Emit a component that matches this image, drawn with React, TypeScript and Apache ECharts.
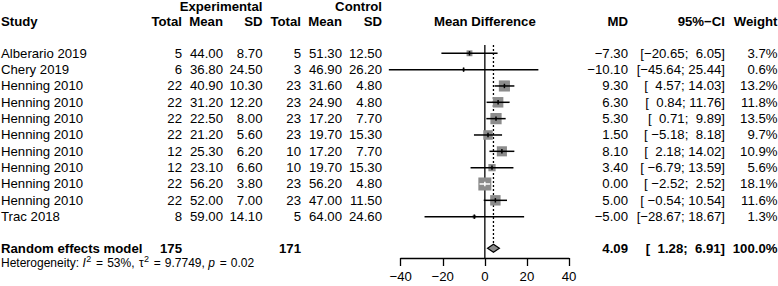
import React, { useEffect, useRef } from "react";
import * as echarts from "echarts";

// ---------- data ----------
const studies = ["Alberario 2019", "Chery 2019", "Henning 2010", "Henning 2010", "Henning 2010", "Henning 2010", "Henning 2010", "Henning 2010", "Henning 2010", "Henning 2010", "Trac 2018"];
const expTotal = [5, 6, 22, 22, 22, 22, 12, 12, 22, 22, 8];
const expMean = [44.0, 36.8, 40.9, 31.2, 22.5, 21.2, 25.3, 23.1, 56.2, 52.0, 59.0];
const expSD = [8.7, 24.5, 10.3, 12.2, 8.0, 5.6, 6.2, 6.6, 3.8, 7.0, 14.1];
const ctlTotal = [5, 3, 23, 23, 23, 23, 10, 10, 23, 23, 5];
const ctlMean = [51.3, 46.9, 31.6, 24.9, 17.2, 19.7, 17.2, 19.7, 56.2, 47.0, 64.0];
const ctlSD = [12.5, 26.2, 4.8, 4.8, 7.7, 15.3, 7.7, 15.3, 4.8, 11.5, 24.6];
const md = [-7.3, -10.1, 9.3, 6.3, 5.3, 1.5, 8.1, 3.4, 0.0, 5.0, -5.0];
const ciLow = [-20.65, -45.64, 4.57, 0.84, 0.71, -5.18, 2.18, -6.79, -2.52, -0.54, -28.67];
const ciHigh = [6.05, 25.44, 14.03, 11.76, 9.89, 8.18, 14.02, 13.59, 2.52, 10.54, 18.67];
const weight = [3.7, 0.6, 13.2, 11.8, 13.5, 9.7, 10.9, 5.6, 18.1, 11.6, 1.3];

const pooledLabel = "Random effects model";
const pooledExpTotal = 175;
const pooledCtlTotal = 171;
const pooledMD = 4.09;
const pooledLow = 1.28;
const pooledHigh = 6.91;
const pooledWeight = 100.0;
const heterogeneity = { i2: "53%", tau2: "9.7749", p: "0.02" };

const xTicks = { min: -40, max: 40, interval: 20 };

// ---------- layout ----------
const FAM = "'Liberation Sans', Arial, Helvetica, sans-serif";
const FS = 13.2;
const HFS = 12;
const SUPFS = 9;
const GRAY = "#8c8c8c";
const COLX: Record<string, { x: number; align: string }> = {
  study: { x: 1, align: "left" },
  eTotal: { x: 182, align: "right" },
  eMean: { x: 223, align: "right" },
  eSD: { x: 262.5, align: "right" },
  cTotal: { x: 301, align: "right" },
  cMean: { x: 342, align: "right" },
  cSD: { x: 382, align: "right" },
  md: { x: 628, align: "right" },
  ci: { x: 725, align: "right" },
  w: { x: 777.5, align: "right" },
};
const ROW_GROUP = -2.85;
const ROW_HEAD = -1.95;
const ROW_MODEL = 11.93;
const ROW_HET = 12.85;

const minus = (s: string) => s.replace(/-/g, "\u2212");
const f2 = (v: number) => minus(v.toFixed(2));
const pad = (s: string, n: number) => {
  while (s.length < n) s = "\u00a0" + s;
  return s;
};
const ciText = (lo: number, hi: number) =>
  "[" + pad(f2(lo), 6) + ";\u00a0" + pad(f2(hi), 5) + "]";

type Cell = { text: string; col: string; bold?: boolean; center?: boolean; het?: boolean };
type TRow = { row: number; cells: Cell[] };

// heterogeneity pieces: [text, kind, gap before (px)]
const hetPieces: [string, string, number][] = [
  ["Heterogeneity: ", "n", 0],
  ["I", "i", 0],
  ["2", "s", 0.6],
  ["=", "n", 4.6],
  [heterogeneity.i2 + ",", "n", 4.2],
  ["\u03c4", "n", 4.5],
  ["2", "s", 0.3],
  ["=", "n", 4.6],
  [heterogeneity.tau2 + ",", "n", 4.2],
  ["p", "i", 3.5],
  ["=", "n", 4.6],
  [heterogeneity.p, "n", 4.2],
];
const pieceFont = (k: string) =>
  k === "i" ? `italic ${HFS}px ${FAM}` : k === "s" ? `${SUPFS}px ${FAM}` : `${HFS}px ${FAM}`;

const tableRows: TRow[] = [
  {
    row: ROW_GROUP,
    cells: [
      { text: "Experimental", col: "eSD", bold: true },
      { text: "Control", col: "cSD", bold: true },
    ],
  },
  {
    row: ROW_HEAD,
    cells: [
      { text: "Study", col: "study", bold: true },
      { text: "Total", col: "eTotal", bold: true },
      { text: "Mean", col: "eMean", bold: true },
      { text: "SD", col: "eSD", bold: true },
      { text: "Total", col: "cTotal", bold: true },
      { text: "Mean", col: "cMean", bold: true },
      { text: "SD", col: "cSD", bold: true },
      { text: "Mean Difference", col: "plot", bold: true, center: true },
      { text: "MD", col: "md", bold: true },
      { text: "95%\u2212CI", col: "ci", bold: true },
      { text: "Weight", col: "w", bold: true },
    ],
  },
  ...studies.map((s, i) => ({
    row: i,
    cells: [
      { text: s, col: "study" },
      { text: String(expTotal[i]), col: "eTotal" },
      { text: expMean[i].toFixed(2), col: "eMean" },
      { text: expSD[i].toFixed(2), col: "eSD" },
      { text: String(ctlTotal[i]), col: "cTotal" },
      { text: ctlMean[i].toFixed(2), col: "cMean" },
      { text: ctlSD[i].toFixed(2), col: "cSD" },
      { text: f2(md[i]), col: "md" },
      { text: ciText(ciLow[i], ciHigh[i]), col: "ci" },
      { text: weight[i].toFixed(1) + "%", col: "w" },
    ],
  })),
  {
    row: ROW_MODEL,
    cells: [
      { text: pooledLabel, col: "study", bold: true },
      { text: String(pooledExpTotal), col: "eTotal", bold: true },
      { text: String(pooledCtlTotal), col: "cTotal", bold: true },
      { text: f2(pooledMD), col: "md", bold: true },
      { text: ciText(pooledLow, pooledHigh), col: "ci", bold: true },
      { text: pooledWeight.toFixed(1) + "%", col: "w", bold: true },
    ],
  },
  { row: ROW_HET, cells: [{ text: "", col: "study", het: true }] },
];

export default function App() {
  const ref = useRef<HTMLDivElement>(null);
  useEffect(() => {
    if (!ref.current) return;
    const chart = echarts.init(ref.current, undefined, { renderer: "svg" });

    const ctx = document.createElement("canvas").getContext("2d") as CanvasRenderingContext2D;
    const measure = (t: string, font: string) => {
      ctx.font = font;
      return ctx.measureText(t).width;
    };

    const hetElements = (x0: number, y: number) => {
      let x = x0;
      return hetPieces.map(([t, k, gap]) => {
        const font = pieceFont(k);
        x += gap;
        const el = {
          type: "text",
          style: {
            text: t.replace(/ /g, "\u00a0"),
            x,
            y: k === "s" ? y - 4.5 : y,
            fill: "#000",
            align: "left",
            verticalAlign: "middle",
            font,
          },
        };
        x += measure(t, font);
        return el;
      });
    };

    const option: any = {
      animation: false,
      backgroundColor: "#fff",
      grid: { left: 400.7, right: 209, top: 4.28, bottom: 28, containLabel: false },
      xAxis: {
        type: "value",
        min: xTicks.min,
        max: xTicks.max,
        interval: xTicks.interval,
        splitLine: { show: false },
        axisLine: { show: true, onZero: false, lineStyle: { color: "#000", width: 1.3 } },
        axisTick: { show: true, length: 8, lineStyle: { color: "#000", width: 1.3 } },
        axisLabel: {
          color: "#000",
          fontSize: FS,
          fontFamily: FAM,
          margin: 12,
          formatter: (v: number) => minus(String(v)),
        },
      },
      yAxis: { type: "value", show: false, inverse: true, min: -3, max: 12.53 },
      series: [
        {
          type: "custom",
          clip: false,
          data: [[0, -0.5, 12.53]],
          renderItem: (params: any, api: any) => {
            const p1 = api.coord([api.value(0), api.value(1)]);
            const p2 = api.coord([api.value(0), api.value(2)]);
            return {
              type: "line",
              shape: { x1: p1[0], y1: p1[1], x2: p2[0], y2: p2[1] },
              style: { stroke: "#000", lineWidth: 1.3 },
            };
          },
        },
        {
          type: "custom",
          clip: false,
          data: [[pooledMD, pooledLow, pooledHigh, ROW_MODEL]],
          renderItem: (params: any, api: any) => {
            const row = api.value(3);
            const c = api.coord([api.value(0), row]);
            const l = api.coord([api.value(1), row]);
            const h = api.coord([api.value(2), row]);
            const top = api.coord([api.value(0), -0.5]);
            const hh = 4;
            return {
              type: "group",
              children: [
                {
                  type: "line",
                  shape: { x1: c[0], y1: top[1], x2: c[0], y2: c[1] - hh },
                  style: { stroke: "#000", lineWidth: 1.3, lineDash: [2, 2] },
                },
                {
                  type: "polygon",
                  shape: { points: [[l[0], c[1]], [c[0], c[1] - hh], [h[0], c[1]], [c[0], c[1] + hh]] },
                  style: { fill: GRAY, stroke: "#000", lineWidth: 1.2 },
                },
              ],
            };
          },
        },
        {
          type: "custom",
          clip: false,
          data: md.map((m, i) => [m, ciLow[i], ciHigh[i], weight[i], i]),
          renderItem: (params: any, api: any) => {
            const row = api.value(4);
            const c = api.coord([api.value(0), row]);
            const xl = api.coord([api.value(1), row])[0];
            const xh = api.coord([api.value(2), row])[0];
            const side = 3.06 * Math.sqrt(api.value(3));
            const inside = xl >= c[0] - side / 2 && xh <= c[0] + side / 2;
            const lc = inside ? "#fff" : "#000";
            return {
              type: "group",
              children: [
                {
                  type: "rect",
                  shape: { x: c[0] - side / 2, y: c[1] - side / 2, width: side, height: side },
                  style: { fill: GRAY },
                },
                {
                  type: "line",
                  shape: { x1: xl, y1: c[1], x2: xh, y2: c[1] },
                  style: { stroke: lc, lineWidth: 1.5 },
                },
                {
                  type: "line",
                  shape: { x1: c[0], y1: c[1] - 2.2, x2: c[0], y2: c[1] + 2.2 },
                  style: { stroke: lc, lineWidth: 1.5 },
                },
              ],
            };
          },
        },
        {
          type: "custom",
          clip: false,
          silent: true,
          data: tableRows.map((r) => [0, r.row]),
          renderItem: (params: any, api: any) => {
            const r = tableRows[params.dataIndex];
            const pt = api.coord([0, api.value(1)]);
            const y = pt[1];
            const children: any[] = [];
            r.cells.forEach((c) => {
              if (c.het) {
                children.push(...hetElements(COLX.study.x, y));
                return;
              }
              const x = c.center ? pt[0] : COLX[c.col].x;
              const align = c.center ? "center" : COLX[c.col].align;
              children.push({
                type: "text",
                style: {
                  text: c.text,
                  x,
                  y,
                  fill: "#000",
                  align,
                  verticalAlign: "middle",
                  font: `${c.bold ? "bold " : ""}${FS}px ${FAM}`,
                },
              });
            });
            return { type: "group", children };
          },
        },
      ],
    };
    chart.setOption(option);
    return () => chart.dispose();
  }, []);

  return (
    <div
      ref={ref}
      style={{ position: "absolute", left: 0, top: 0, width: 778, height: 286, background: "#fff" }}
    />
  );
}
